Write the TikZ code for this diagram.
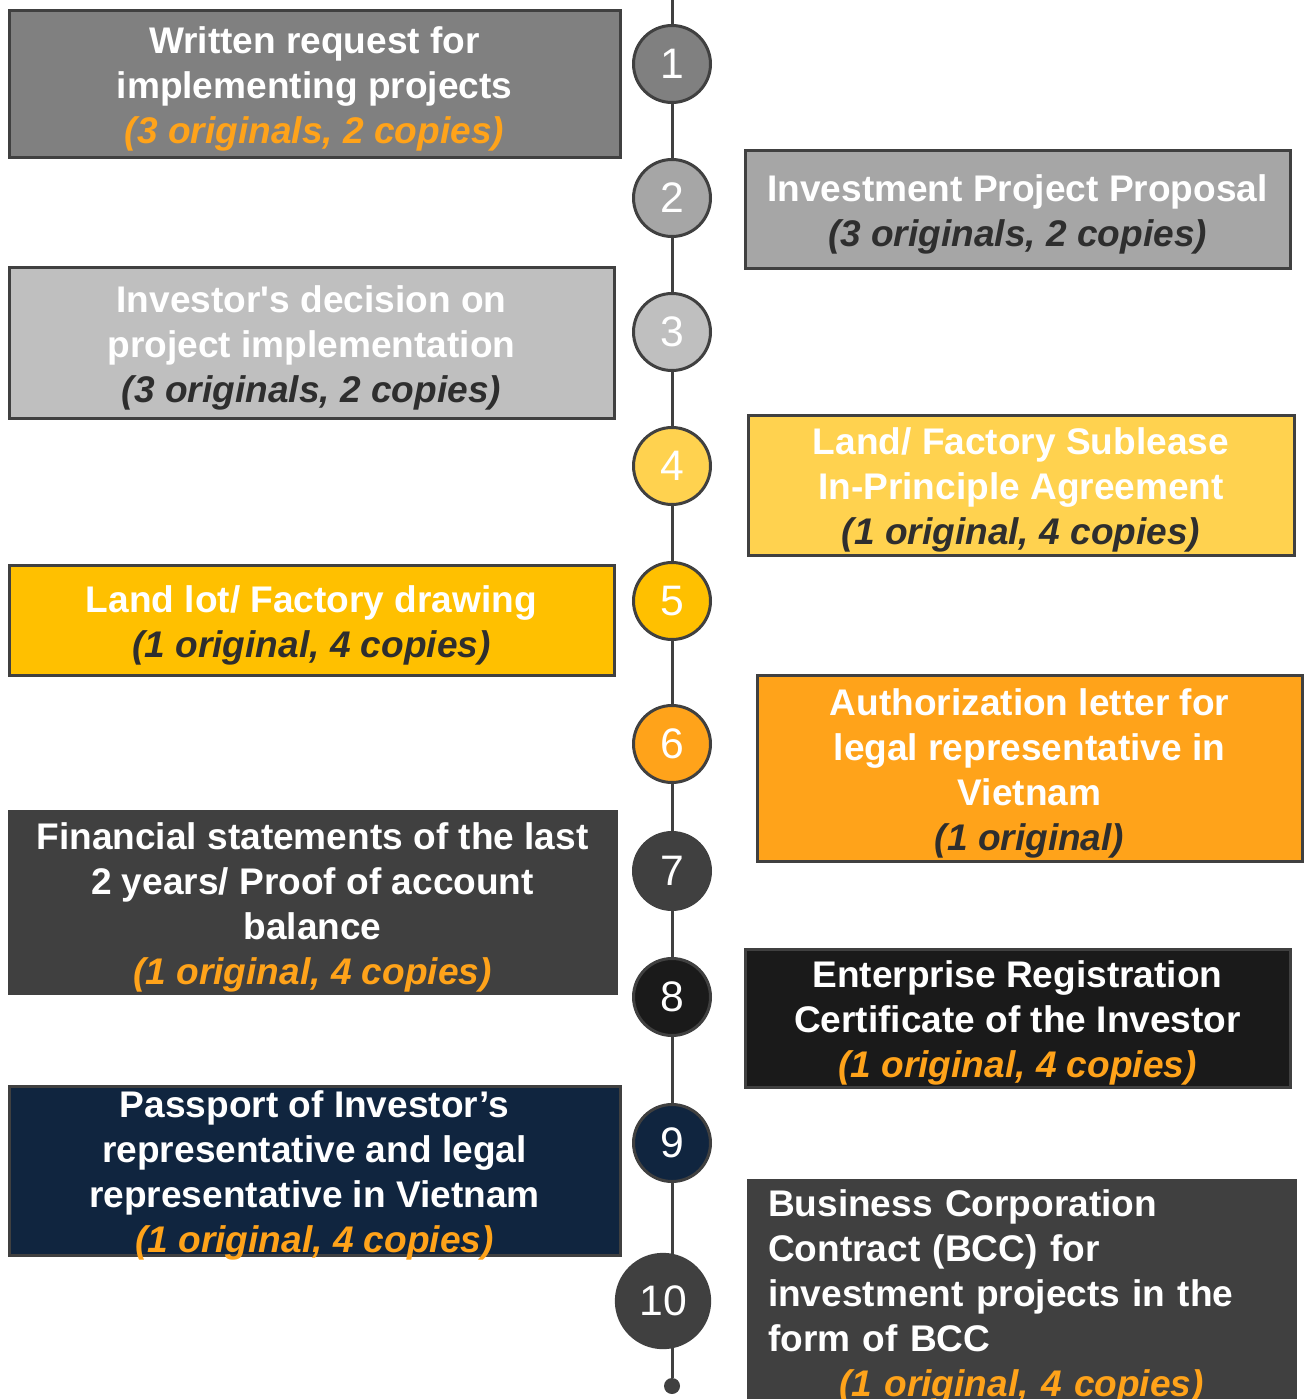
\documentclass[tikz,border=0pt]{standalone}
\usepackage{fontspec}
\setmainfont{Liberation Sans}
\definecolor{bordergray}{HTML}{404040}
\definecolor{cA}{HTML}{808080}
\definecolor{cB}{HTML}{A6A6A6}
\definecolor{cC}{HTML}{BFBFBF}
\definecolor{cD}{HTML}{FFD24F}
\definecolor{cE}{HTML}{FFC000}
\definecolor{cF}{HTML}{FFA31A}
\definecolor{cG}{HTML}{404040}
\definecolor{cH}{HTML}{1A1A1A}
\definecolor{cI}{HTML}{10253F}
\definecolor{subor}{HTML}{FFA31A}
\definecolor{subdk}{HTML}{2E2E2E}
\newcommand{\subo}[1]{\textcolor{subor}{\itshape #1}}
\newcommand{\subd}[1]{\textcolor{subdk}{\itshape #1}}
\newcommand{\docnode}[7]{%
  \node[docbox, fill=#6, minimum width={(#4-#2)*0.75pt}, minimum height={(#5-#3)*0.75pt}]
    (#1) at ({(#2+#4)/2},{(#3+#5)/2}) {};
  \node[doctext] (#1t) at ([yshift=-3.75pt]#1.center) {#7};}
\tikzset{
  docbox/.style={draw=bordergray, line width=2.25pt, inner sep=0pt},
  doctext/.style={inner sep=0pt, text=white,
    font=\bfseries\fontsize{27.8}{33.75}\selectfont, align=center},
  numcirc/.style={circle, draw=bordergray, line width=2.25pt, minimum size=57.75pt,
    inner sep=0pt, text=white, font=\fontsize{32}{36}\selectfont},
  bigcirc/.style={numcirc, minimum size=70pt, draw=cG},
  timeline/.style={draw=bordergray, line width=2.25pt},
  enddot/.style={circle, fill=bordergray, minimum size=12pt, inner sep=0pt},
}
\begin{document}
\begin{tikzpicture}[x=0.75pt, y=-0.75pt]
\useasboundingbox (0,0) rectangle (1303,1399);
% timeline
\coordinate (top) at (672,0);
\node[enddot] (end) at (672,1386) {};
\draw[timeline] (top) -- (end);
% boxes
\docnode{b1}{9}{10}{620}{157}{cA}{Written request for\\implementing projects\\\subo{(3 originals, 2 copies)}}
\docnode{b2}{745}{150}{1290}{268}{cB}{Investment Project Proposal\\\subd{(3 originals, 2 copies)}}
\docnode{b3}{9}{267}{614}{418}{cC}{Investor\textquotesingle s decision on\\project implementation\\\subd{(3 originals, 2 copies)}}
\docnode{b4}{748}{415}{1294}{555}{cD}{Land/ Factory Sublease\\In-Principle Agreement\\\subd{(1 original, 4 copies)}}
\docnode{b5}{9}{565}{614}{675}{cE}{Land lot/ Factory drawing\\\subd{(1 original, 4 copies)}}
\docnode{b6}{757}{675}{1302}{861}{cF}{Authorization letter for\\legal representative in\\Vietnam\\\subd{(1 original)}}
\docnode{b7}{9}{811}{616}{993}{cG}{Financial statements of the last\\2 years/ Proof of account\\balance\\\subo{(1 original, 4 copies)}}
\docnode{b8}{745}{949}{1290}{1087}{cH}{Enterprise Registration\\Certificate of the Investor\\\subo{(1 original, 4 copies)}}
\docnode{b9}{9}{1086}{620}{1255}{cI}{Passport of Investor’s\\representative and legal\\representative in Vietnam\\\subo{(1 original, 4 copies)}}
\node[docbox, fill=cG, minimum width={(1295-748)*0.75pt}, minimum height={(1403-1180)*0.75pt}]
  (b10) at ({(748+1295)/2},{(1180+1403)/2}) {};
\node[doctext, align=left, text width=380.25pt] (b10t) at ([yshift=-3.75pt]b10.center)
  {Business Corporation\\Contract (BCC) for\\investment projects in the\\form of BCC\\\makebox[\hsize]{\subo{(1 original, 4 copies)}}};
% circles
\node[numcirc, fill=cA] (c1) at (672,64) {1};
\node[numcirc, fill=cB] (c2) at (672,198) {2};
\node[numcirc, fill=cC] (c3) at (672,332) {3};
\node[numcirc, fill=cD] (c4) at (672,466) {4};
\node[numcirc, fill=cE] (c5) at (672,601) {5};
\node[numcirc, fill=cF] (c6) at (672,744) {6};
\node[numcirc, fill=cG] (c7) at (672,871) {7};
\node[numcirc, fill=cH] (c8) at (672,997) {8};
\node[numcirc, fill=cI] (c9) at (672,1143) {9};
\node[bigcirc, fill=cG] (c10) at (663,1301) {10};
\end{tikzpicture}
\end{document}
